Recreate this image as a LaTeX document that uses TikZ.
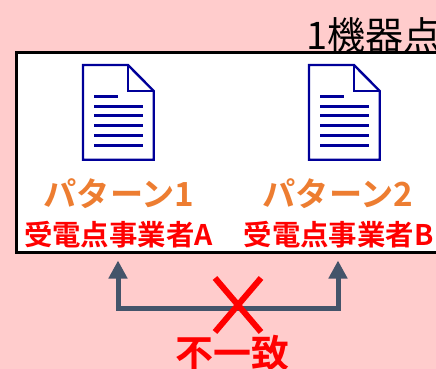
\documentclass[tikz,border=0pt]{standalone}
\usepackage{fontspec}
\setmainfont{Noto Sans CJK JP}
\newfontfamily\cjkb{Noto Sans CJK JP Bold}
\usetikzlibrary{arrows.meta}
\definecolor{bgpink}{HTML}{FFCCCC}
\definecolor{docblue}{HTML}{000099}
\definecolor{orangelab}{HTML}{ED7D31}
\definecolor{slatearrow}{HTML}{44546A}
\tikzset{
  px/.style={x=1pt,y=-1pt},
  docout/.style={draw=docblue,line width=2.4pt,fill=white,line join=miter},
  docline/.style={draw=docblue,line width=3pt},
  patlabel/.style={inner sep=0pt,text=orangelab,font=\cjkb\fontsize{33.2}{33}\selectfont},
  sublabel/.style={inner sep=0pt,text=red,font=\cjkb\fontsize{28.4}{29}\selectfont},
  link/.style={draw=slatearrow,line width=5pt,-{Triangle[length=18pt,width=18pt]}},
  crossline/.style={draw=red,line width=6pt}
}
\newcommand{\docicon}[1]{%
  \begin{scope}[shift={(#1,0)}]
    \draw[docout] (83,65) -- (128,65) -- (153.7,91) -- (153.7,159.7) -- (83,159.7) -- cycle;
    \draw[docout,fill=none] (128,65) -- (128,91) -- (153.7,91);
    \draw[docline] (94,96.3) -- (118,96.3);
    \foreach \yy in {106,115.8,125.6,135.4,145.3}{\draw[docline] (94,\yy) -- (143,\yy);}
  \end{scope}}
\begin{document}
\begin{tikzpicture}[px]
\useasboundingbox (0,0) rectangle (436,369);
\fill[bgpink] (0,0) rectangle (436,369);
\node[anchor=base west,inner sep=0pt,font=\fontsize{38}{38}\selectfont] (title) at (306,50) {1機器点};
\node[draw=black,line width=3pt,outer sep=0pt,fill=white,minimum width=424pt,minimum height=199pt,inner sep=0pt,anchor=north west] (frame) at (16,53) {};
\docicon{0}
\docicon{226}
\node[patlabel] (patA) at (119,194) {パターン1};
\node[patlabel] (patB) at (338,194) {パターン2};
\node[sublabel] (subA) at (118.5,235) {受電点事業者A};
\node[sublabel] (subB) at (338.5,235) {受電点事業者B};
\coordinate (tipA) at (118,260.5);
\coordinate (tipB) at (338,260.5);
\coordinate (cornerA) at (118,308);
\coordinate (cornerB) at (338,308);
\draw[link] (cornerB) -- (tipB);
\draw[link] (cornerA) -- (tipA);
\draw[draw=slatearrow,line width=5pt,line cap=rect] (cornerA) -- (cornerB);
\coordinate (xa) at (215,278);
\coordinate (xb) at (261,332);
\coordinate (xc) at (261,278);
\coordinate (xd) at (215,332);
\draw[crossline] (xa) -- (xb);
\draw[crossline] (xc) -- (xd);
\node[inner sep=0pt,text=red,font=\cjkb\fontsize{38}{38}\selectfont] (mismatch) at (232,353) {不一致};
\end{tikzpicture}
\end{document}
